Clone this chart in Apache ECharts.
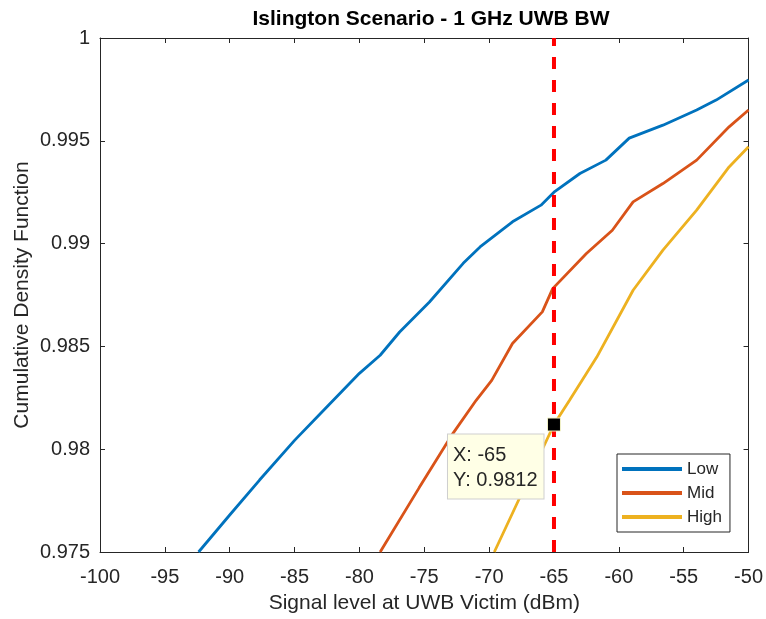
<!DOCTYPE html>
<html>
<head>
<meta charset="utf-8">
<script src="https://cdn.jsdelivr.net/npm/echarts@6/dist/echarts.min.js"></script>
<style>html,body{margin:0;padding:0;background:#fff}#c{width:766px;height:619px}</style>
</head>
<body>
<div id="c"></div>
<script>
const lowX = [-92.4, -90, -87.7, -85, -83, -80, -78.4, -76.9, -74.6, -72, -70.7, -68.2, -66, -65, -63, -61, -59.2, -56.6, -54, -52.5, -50];
const lowY = [0.975, 0.9768, 0.9785, 0.98043, 0.98174, 0.98369, 0.98457, 0.9857, 0.98716, 0.98904, 0.98984, 0.99106, 0.99187, 0.9925, 0.99341, 0.99406, 0.99513, 0.99576, 0.9965, 0.99698, 0.99796];
const midX = [-78.4, -75.4, -72.8, -71, -69.8, -68.2, -65.9, -65.1, -62.5, -60.5, -58.9, -56.6, -54, -51.5, -50];
const midY = [0.975, 0.97812, 0.98076, 0.98238, 0.98335, 0.98514, 0.98668, 0.98781, 0.98952, 0.99065, 0.99203, 0.99292, 0.99406, 0.99568, 0.9965];
const highX = [-69.6, -65, -63.8, -61.7, -58.9, -56.6, -54, -51.5, -50];
const highY = [0.975, 0.9812, 0.98238, 0.98448, 0.98773, 0.98968, 0.99163, 0.99373, 0.99471];
const thresholdX = -65;
const tipPoint = [-65, 0.9812];
const seriesNames = ['Low', 'Mid', 'High'];

const zip = (xs, ys) => xs.map((x, i) => [x, ys[i]]);
const FONT = "'Liberation Sans', Arial, Helvetica, sans-serif";
const TXT = '#262626';

const chart = echarts.init(document.getElementById('c'), null, {renderer: 'canvas'});
const baseX = {min: -100, max: -50, interval: 5};
const baseY = {min: 0.975, max: 1, interval: 0.005};
const yFmt = v => String(parseFloat(v.toFixed(3)));

chart.setOption({
  animation: false,
  backgroundColor: '#fff',
  title: {
    text: 'Islington Scenario - 1 GHz UWB BW',
    left: 426, top: 4, textAlign: 'center',
    textStyle: {fontFamily: FONT, fontSize: 21, fontWeight: 'bold', color: '#000'}
  },
  grid: {left: 100, right: 17, top: 38, bottom: 67, containLabel: false},
  legend: {
    data: seriesNames,
    orient: 'vertical',
    left: 617, top: 454,
    itemWidth: 60, itemHeight: 4, itemGap: 6,
    icon: 'rect',
    padding: [6, 8, 6, 5],
    borderColor: '#262626', borderWidth: 1, backgroundColor: '#fff',
    textStyle: {fontFamily: FONT, fontSize: 17, color: TXT, lineHeight: 18}
  },
  xAxis: [
    Object.assign({type: 'value', position: 'bottom', name: 'Signal level at UWB Victim (dBm)',
      nameLocation: 'middle', nameGap: 41, nameMoveOverlap: false,
      nameTextStyle: {fontFamily: FONT, fontSize: 21, color: TXT},
      axisLine: {lineStyle: {color: TXT, width: 1}},
      axisTick: {inside: true, length: 5, lineStyle: {color: TXT}},
      axisLabel: {fontFamily: FONT, fontSize: 20, color: TXT, margin: 15},
      splitLine: {show: false}}, baseX),
    Object.assign({type: 'value', position: 'top',
      axisLine: {lineStyle: {color: TXT, width: 1}},
      axisTick: {inside: true, length: 5, lineStyle: {color: TXT}},
      axisLabel: {show: false}, splitLine: {show: false}}, baseX)
  ],
  yAxis: [
    Object.assign({type: 'value', position: 'left', name: 'Cumulative Density Function',
      nameLocation: 'middle', nameGap: 67, nameMoveOverlap: false,
      nameTextStyle: {fontFamily: FONT, fontSize: 21, color: TXT},
      axisLine: {show: true, lineStyle: {color: TXT, width: 1}},
      axisTick: {show: true, inside: true, length: 5, lineStyle: {color: TXT}},
      axisLabel: {fontFamily: FONT, fontSize: 20, color: TXT, margin: 10, formatter: yFmt},
      splitLine: {show: false}}, baseY),
    Object.assign({type: 'value', position: 'right',
      axisLine: {show: true, lineStyle: {color: TXT, width: 1}},
      axisTick: {show: true, inside: true, length: 5, lineStyle: {color: TXT}},
      axisLabel: {show: false}, splitLine: {show: false}}, baseY)
  ],
  series: [
    {name: 'Low', type: 'line', data: zip(lowX, lowY), showSymbol: false, color: '#0072BD',
      lineStyle: {width: 2.8, color: '#0072BD'}, z: 3},
    {name: 'Mid', type: 'line', data: zip(midX, midY), showSymbol: false, color: '#D95319',
      lineStyle: {width: 2.8, color: '#D95319'}, z: 3},
    {name: 'High', type: 'line', data: zip(highX, highY), showSymbol: false, color: '#EDB120',
      lineStyle: {width: 2.8, color: '#EDB120'}, z: 3},
    {name: 'threshold', type: 'line', data: [[thresholdX, baseY.min], [thresholdX, baseY.max]],
      showSymbol: false, lineStyle: {width: 4, color: '#FF0000', type: [12, 11]}, z: 4},
    {name: 'tip', type: 'scatter', data: [tipPoint], symbol: 'rect', symbolSize: 13,
      itemStyle: {color: '#000', opacity: 1, borderColor: '#f2f2c8', borderWidth: 1}, z: 10,
      label: {show: true, position: [-99, 17], align: 'left', verticalAlign: 'top',
        formatter: p => 'X: ' + p.value[0] + '\nY: ' + p.value[1],
        fontFamily: FONT, fontSize: 20, color: TXT, lineHeight: 25,
        backgroundColor: '#FFFFE6', borderColor: '#cfcfcf', borderWidth: 1,
        padding: [8, 6, 6, 5]}}
  ]
});
</script>
</body>
</html>
